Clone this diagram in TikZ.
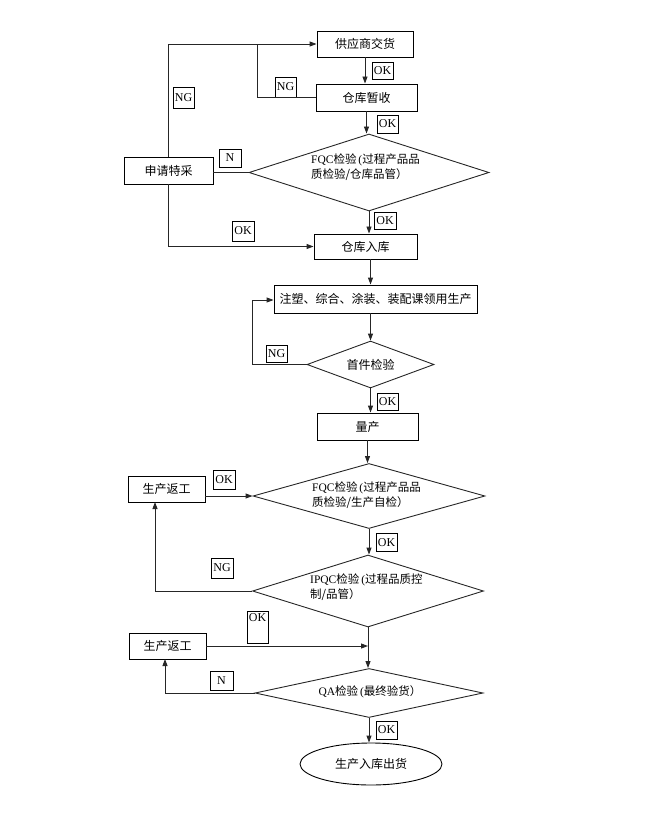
\documentclass[tikz,border=0pt]{standalone}
\usepackage{fontspec}
\setmainfont{Noto Sans CJK SC}
\newfontfamily\lat{Liberation Serif}
\usetikzlibrary{shapes.geometric,arrows.meta}
\tikzset{
  line/.style={draw=black!85, line width=0.9pt},
  arr/.style={line, -{Triangle[length=7pt,width=5pt]}},
  box/.style={draw=black, line width=0.9pt, rectangle, inner sep=0pt, font=\fontsize{12}{14}\selectfont},
  dia/.style={draw=black!85, line width=0.9pt, diamond, inner sep=0pt},
  dtext/.style={align=left, inner sep=0pt, font=\fontsize{11.5}{15}\selectfont},
  lab/.style={draw=black, line width=0.8pt, rectangle, inner sep=0pt, font=\lat\fontsize{12}{13}\selectfont},
}
\begin{document}
\begin{tikzpicture}[x=1pt,y=-1pt]
\useasboundingbox (0,0) rectangle (650,818);
% boxes
\node[box, minimum width=96, minimum height=26] (a1) at (365,44) {供应商交货};
\node[box, minimum width=101, minimum height=27] (a2) at (366.5,97.5) {仓库暂收};
\node[box, minimum width=89, minimum height=27] (sp) at (168.5,170.5) {申请特采};
\node[dia, minimum width=240, minimum height=77] (d1) at (369,172.5) {};
\node[dtext, anchor=north west] (t1) at (311,154) {{\lat FQC}检验\,{\lat (}过程产品品\\质检验/仓库品管）};
\node[box, minimum width=103, minimum height=25] (a3) at (365.5,246.5) {仓库入库};
\node[box, minimum width=203, minimum height=28] (b1) at (375.5,299) {注塑、综合、涂装、装配课领用生产};
\node[dia, minimum width=127, minimum height=47] (d2) at (370.5,364.5) {};
\node[font=\fontsize{12}{14}\selectfont, inner sep=0pt] (t2) at (d2) {首件检验};
\node[box, minimum width=101, minimum height=27] (b2) at (367.5,426.5) {量产};
\node[dia, minimum width=232, minimum height=65] (d3) at (369,496) {};
\node[dtext, anchor=north west] (t3) at (312,482) {{\lat FQC}检验\,{\lat (}过程产品品\\质检验/生产自检）};
\node[box, minimum width=77, minimum height=26] (r1) at (166.5,489) {生产返工};
\node[dia, minimum width=231, minimum height=72] (d4) at (368,591) {};
\node[dtext, anchor=north west] (t4) at (310,574) {{\lat IPQC}检验\,{\lat (}过程品质控\\制/品管）};
\node[box, minimum width=77, minimum height=26] (r2) at (167.5,646) {生产返工};
\node[dia, minimum width=228, minimum height=49] (d5) at (369,693) {};
\node[dtext] (t5) at (370,692) {{\lat QA}检验\,{\lat (}最终验货）};
\node[ellipse, draw=black, line width=0.9pt, minimum width=142, minimum height=42, inner sep=0pt, font=\fontsize{12}{14}\selectfont] (e) at (371,764) {生产入库出货};
% labels
\node[lab, minimum width=21, minimum height=17] (l1) at (382.5,70.5) {OK};
\node[lab, minimum width=21, minimum height=20] (l2) at (285.5,87) {NG};
\node[lab, minimum width=21, minimum height=21] (l3) at (183.5,97.5) {NG};
\node[lab, minimum width=21, minimum height=18] (l4) at (387.5,124) {OK};
\node[lab, minimum width=22, minimum height=18] (l5) at (230,158) {N};
\node[lab, minimum width=22, minimum height=20] (l6) at (243,231) {OK};
\node[lab, minimum width=22, minimum height=17] (l7) at (385,220.5) {OK};
\node[lab, minimum width=21, minimum height=17] (l8) at (276.5,353.5) {NG};
\node[lab, minimum width=21, minimum height=17] (l9) at (387.5,401.5) {OK};
\node[lab, minimum width=22, minimum height=19] (l10) at (224,479.5) {OK};
\node[lab, minimum width=21, minimum height=18] (l11) at (386.5,542.5) {OK};
\node[lab, minimum width=22, minimum height=20] (l12) at (222,568) {NG};
\node[lab, minimum width=21, minimum height=32, text depth=20pt, text height=8pt] (l13) at (257.5,627) {OK};
\node[lab, minimum width=23, minimum height=19] (l14) at (221.5,680.5) {N};
\node[lab, minimum width=21, minimum height=18] (l15) at (386.5,730) {OK};
% helper coordinates
\coordinate (n1) at (257,44);
\coordinate (n2) at (252,300);
\coordinate (n3) at (155,502);
\coordinate (n4) at (165,659);
% connectors
\draw[arr] (a1.south) -- (a1.south |- a2.north);
\draw[line] (a2.west) -| (n1);
\draw[arr] (sp.north) |- (a1.west);
\draw[arr] (a2.south) -- (a2.south |- d1.north);
\draw[line] (d1.west) -- (d1.west -| sp.east);
\draw[arr] (sp.south) |- (a3.west);
\draw[arr] (d1.south) -- (d1.south |- a3.north);
\draw[arr] (d2.north |- a3.south) -- (d2.north |- b1.north);
\draw[arr] (d2.north |- b1.south) -- (d2.north);
\draw[arr] (d2.west) -| (n2) -- (b1.west |- n2);
\draw[arr] (d2.south) -- (d2.south |- b2.north);
\draw[arr] (b2.south) -- (b2.south |- d3.north);
\draw[arr] (d3.west -| r1.east) -- (d3.west);
\draw[arr] (d3.south) -- (d3.south |- d4.north);
\draw[arr] (d4.west) -| (n3);
\draw[arr] (d4.south) -- (d4.south |- d5.north);
\draw[arr] (r2.east) -- (d4.south |- r2.east);
\draw[arr] (d5.west) -| (n4);
\draw[arr] (d5.south) -- (d5.south |- e.north);
\end{tikzpicture}
\end{document}
